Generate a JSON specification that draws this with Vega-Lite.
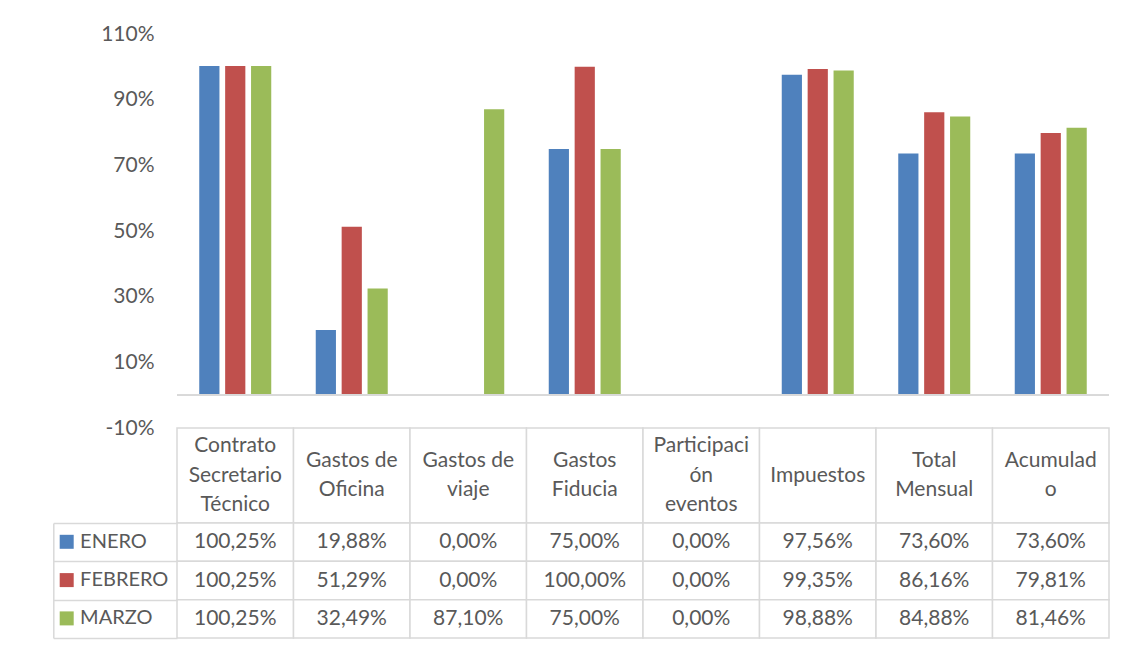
{
  "$schema": "https://vega.github.io/schema/vega-lite/v6.json",
  "background": "white",
  "padding": {"left": 52, "top": 23, "right": 10, "bottom": 5},
  "config": {
    "font": "Lato",
    "view": {"stroke": null},
    "locale": {"number": {"decimal": ",", "thousands": ".", "grouping": [3], "currency": ["", " €"], "minus": "-"}},
    "text": {"font": "Lato"}
  },
  "datasets": {
    "datos": [
      {"categoria": "Contrato\nSecretario\nTécnico", "mes": "ENERO", "valor": 1.0025},
      {"categoria": "Contrato\nSecretario\nTécnico", "mes": "FEBRERO", "valor": 1.0025},
      {"categoria": "Contrato\nSecretario\nTécnico", "mes": "MARZO", "valor": 1.0025},
      {"categoria": "Gastos de\nOficina", "mes": "ENERO", "valor": 0.1988},
      {"categoria": "Gastos de\nOficina", "mes": "FEBRERO", "valor": 0.5129},
      {"categoria": "Gastos de\nOficina", "mes": "MARZO", "valor": 0.3249},
      {"categoria": "Gastos de\nviaje", "mes": "ENERO", "valor": 0},
      {"categoria": "Gastos de\nviaje", "mes": "FEBRERO", "valor": 0},
      {"categoria": "Gastos de\nviaje", "mes": "MARZO", "valor": 0.871},
      {"categoria": "Gastos\nFiducia", "mes": "ENERO", "valor": 0.75},
      {"categoria": "Gastos\nFiducia", "mes": "FEBRERO", "valor": 1.0},
      {"categoria": "Gastos\nFiducia", "mes": "MARZO", "valor": 0.75},
      {"categoria": "Participaci\nón\neventos", "mes": "ENERO", "valor": 0},
      {"categoria": "Participaci\nón\neventos", "mes": "FEBRERO", "valor": 0},
      {"categoria": "Participaci\nón\neventos", "mes": "MARZO", "valor": 0},
      {"categoria": "Impuestos", "mes": "ENERO", "valor": 0.9756},
      {"categoria": "Impuestos", "mes": "FEBRERO", "valor": 0.9935},
      {"categoria": "Impuestos", "mes": "MARZO", "valor": 0.9888},
      {"categoria": "Total\nMensual", "mes": "ENERO", "valor": 0.736},
      {"categoria": "Total\nMensual", "mes": "FEBRERO", "valor": 0.8616},
      {"categoria": "Total\nMensual", "mes": "MARZO", "valor": 0.8488},
      {"categoria": "Acumulad\no", "mes": "ENERO", "valor": 0.736},
      {"categoria": "Acumulad\no", "mes": "FEBRERO", "valor": 0.7981},
      {"categoria": "Acumulad\no", "mes": "MARZO", "valor": 0.8146}
    ]
  },
  "spacing": 0,
  "bounds": "flush",
  "vconcat": [
    {
      "width": 932,
      "height": 394,
      "data": {"name": "datos"},
      "layer": [
        {
          "mark": {"type": "bar"},
          "encoding": {
            "x": {"field": "categoria", "type": "nominal", "sort": null, "axis": null,
                  "scale": {"paddingInner": 0.382, "paddingOuter": 0.191}},
            "xOffset": {"field": "mes", "type": "nominal", "sort": ["ENERO", "FEBRERO", "MARZO"],
                        "scale": {"paddingInner": 0.22, "paddingOuter": 0}},
            "y": {"field": "valor", "type": "quantitative",
                  "scale": {"domain": [-0.1, 1.1], "nice": false, "zero": false},
                  "axis": {"values": [-0.1, 0.1, 0.3, 0.5, 0.7, 0.9, 1.1], "format": ".0%",
                           "title": null, "domain": false, "ticks": false, "grid": false,
                           "labelFontSize": 21, "labelColor": "#595959", "labelPadding": 23,
                           "labelFont": "Lato"}},
            "color": {"field": "mes", "type": "nominal",
                      "scale": {"domain": ["ENERO", "FEBRERO", "MARZO"], "range": ["#4f81bd", "#c0504d", "#9bbb59"]},
                      "legend": {"title": null, "orient": "none", "legendX": -120.3, "legendY": 497.8,
                                 "direction": "vertical", "symbolType": "square", "symbolSize": 196,
                                 "symbolStrokeWidth": 0, "symbolOpacity": 1, "labelFontSize": 20, "labelColor": "#595959",
                                 "labelFont": "Lato", "labelOffset": 3.4, "padding": 0, "rowPadding": 18.3}}
          }
        },
        {
          "mark": {"type": "rule", "color": "#d9d9d9", "strokeWidth": 1.5},
          "encoding": {"y": {"datum": 0}}
        }
      ]
    },
    {
      "width": 932,
      "height": 95,
      "data": {"name": "datos"},
      "transform": [{"filter": "datum.mes === 'ENERO'"}],
      "encoding": {
        "x": {"field": "categoria", "type": "nominal", "sort": null, "axis": null,
              "scale": {"paddingInner": 0, "paddingOuter": 0}}
      },
      "layer": [
        {
          "mark": {"type": "rect", "fill": "white", "stroke": "#d9d9d9", "strokeWidth": 1.5}
        },
        {
          "transform": [{"filter": {"field": "categoria", "oneOf": ["Impuestos"]}}],
          "mark": {"type": "text", "fontSize": 21, "color": "#595959", "font": "Lato"},
          "encoding": {"text": {"field": "categoria"}}
        },
        {
          "transform": [{"filter": {"field": "categoria", "oneOf": ["Gastos de\nOficina", "Gastos de\nviaje", "Gastos\nFiducia", "Total\nMensual", "Acumulad\no"]}}],
          "mark": {"type": "text", "lineBreak": "\n", "fontSize": 21, "lineHeight": 29.5, "dy": -14.75, "color": "#595959", "font": "Lato"},
          "encoding": {"text": {"field": "categoria"}}
        },
        {
          "transform": [{"filter": {"field": "categoria", "oneOf": ["Contrato\nSecretario\nTécnico", "Participaci\nón\neventos"]}}],
          "mark": {"type": "text", "lineBreak": "\n", "fontSize": 21, "lineHeight": 29.5, "dy": -29.5, "color": "#595959", "font": "Lato"},
          "encoding": {"text": {"field": "categoria"}}
        }
      ]
    },
    {
      "width": 932,
      "height": 115,
      "data": {"name": "datos"},
      "layer": [
        {
          "mark": {"type": "rect", "fill": "white", "stroke": "#d9d9d9", "strokeWidth": 1.5},
          "encoding": {
            "x": {"field": "categoria", "type": "nominal", "sort": null, "axis": null,
                  "scale": {"paddingInner": 0, "paddingOuter": 0}},
            "y": {"field": "mes", "type": "nominal", "sort": ["ENERO", "FEBRERO", "MARZO"],
                  "scale": {"paddingInner": 0, "paddingOuter": 0},
                  "axis": {"title": null, "labels": false, "domain": true, "domainColor": "#d9d9d9", "domainWidth": 1.5,
                           "offset": 123.7, "ticks": true,
                           "tickBand": "extent", "tickSize": -123.7, "tickColor": "#d9d9d9", "tickWidth": 1.5}}
          }
        },
        {
          "mark": {"type": "text", "fontSize": 21, "color": "#595959", "font": "Lato"},
          "encoding": {
            "x": {"field": "categoria", "type": "nominal", "sort": null, "axis": null,
                  "scale": {"paddingInner": 0, "paddingOuter": 0}},
            "y": {"field": "mes", "type": "nominal", "sort": ["ENERO", "FEBRERO", "MARZO"]},
            "text": {"field": "valor", "type": "quantitative", "format": ".2%"}
          }
        }
      ]
    }
  ]
}
